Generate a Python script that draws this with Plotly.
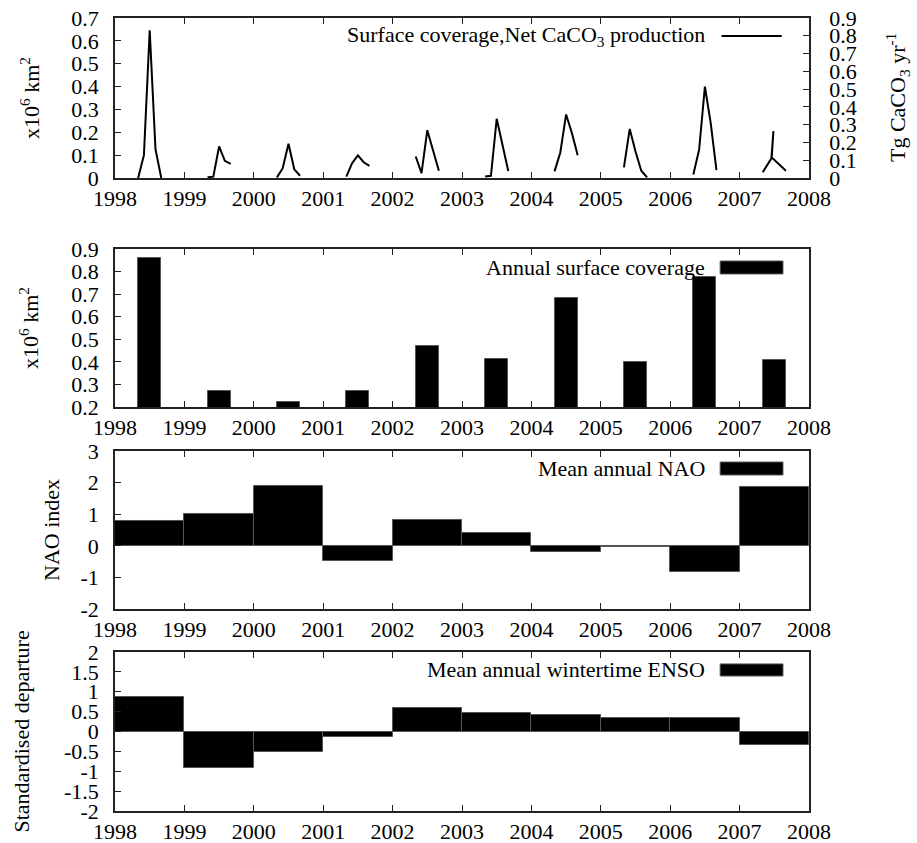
import plotly.graph_objects as go

# ---------------- data ----------------
years = list(range(1998, 2008))

# Panel 1: seasonal (May..Sep) surface coverage, x10^6 km^2 ; month numbers per year
cov_months = [
    [5, 6, 7, 8, 9],
    [5, 6, 7, 8, 9],
    [5, 6, 7, 8, 9],
    [5, 6, 7, 8, 9],
    [5, 6, 7, 8, 9],
    [5, 6, 7, 8, 9],
    [5, 6, 7, 8, 9],
    [5, 6, 7, 8, 9],
    [5, 6, 7, 8, 9],
    [5, 6.5, 6.85, 6.55, 9],
]
cov_values = [
    [0.0, 0.10, 0.646, 0.126, 0.0],
    [0.003, 0.006, 0.138, 0.075, 0.062],
    [0.003, 0.043, 0.150, 0.038, 0.010],
    [0.006, 0.065, 0.099, 0.069, 0.053],
    [0.094, 0.021, 0.209, 0.124, 0.032],
    [0.007, 0.010, 0.259, 0.146, 0.031],
    [0.029, 0.112, 0.278, 0.197, 0.100],
    [0.047, 0.215, 0.116, 0.032, 0.003],
    [0.015, 0.124, 0.400, 0.241, 0.035],
    [0.025, 0.086, 0.205, 0.090, 0.032],
]

annual_coverage = [0.860, 0.269, 0.221, 0.271, 0.469, 0.411, 0.684, 0.401, 0.778, 0.407]
nao = [0.78, 1.01, 1.88, -0.47, 0.82, 0.42, -0.19, -0.05, -0.82, 1.85]
enso = [0.876, -0.92, -0.52, -0.14, 0.60, 0.47, 0.42, 0.33, 0.33, -0.33]

year_ticks = list(range(1998, 2009))
year_labels = [str(y) for y in year_ticks]

y1_ticks = [0, 0.1, 0.2, 0.3, 0.4, 0.5, 0.6, 0.7]
y1_labels = ["0", "0.1", "0.2", "0.3", "0.4", "0.5", "0.6", "0.7"]
y1r_ticks = [0, 0.1, 0.2, 0.3, 0.4, 0.5, 0.6, 0.7, 0.8, 0.9]
y1r_labels = ["0", "0.1", "0.2", "0.3", "0.4", "0.5", "0.6", "0.7", "0.8", "0.9"]
y2_ticks = [0.2, 0.3, 0.4, 0.5, 0.6, 0.7, 0.8, 0.9]
y2_labels = ["0.2", "0.3", "0.4", "0.5", "0.6", "0.7", "0.8", "0.9"]
y3_ticks = [-2, -1, 0, 1, 2, 3]
y3_labels = ["-2", "-1", "0", "1", "2", "3"]
y4_ticks = [-2, -1.5, -1, -0.5, 0, 0.5, 1, 1.5, 2]
y4_labels = ["-2", "-1.5", "-1", "-0.5", "0", "0.5", "1", "1.5", "2"]

# ---------------- figure ----------------
FONT = "Liberation Serif"
line_x, line_y = [], []
for yr, ms, vs in zip(years, cov_months, cov_values):
    for m, v in zip(ms, vs):
        line_x.append(yr + (m - 1) / 12.0)
        line_y.append(v)
    line_x.append(None)
    line_y.append(None)

fig = go.Figure()
fig.add_trace(go.Scatter(x=line_x, y=line_y, mode="lines", xaxis="x", yaxis="y",
                         line=dict(color="black", width=2), connectgaps=False,
                         showlegend=False))
fig.add_trace(go.Bar(x=[y + 0.5 for y in years], y=annual_coverage, width=4 / 12,
                     xaxis="x2", yaxis="y2",
                     marker=dict(color="black", line=dict(color="#555", width=1)),
                     showlegend=False))
fig.add_trace(go.Bar(x=[y + 0.5 for y in years], y=nao, width=1,
                     xaxis="x3", yaxis="y3",
                     marker=dict(color="black", line=dict(color="#555", width=1)),
                     showlegend=False))
fig.add_trace(go.Bar(x=[y + 0.5 for y in years], y=enso, width=1,
                     xaxis="x4", yaxis="y4",
                     marker=dict(color="black", line=dict(color="#555", width=1)),
                     showlegend=False))
# empty trace so the right-hand axis of panel 1 is drawn
fig.add_trace(go.Scatter(x=[None], y=[None], xaxis="x", yaxis="y5", showlegend=False))

tickfont = dict(family=FONT, size=22, color="black")
common = dict(showline=True, linecolor="#222", linewidth=1.5, ticks="inside",
              ticklen=6, tickwidth=1.2, tickcolor="#222", showgrid=False,
              zeroline=False, tickfont=tickfont, automargin=False)

def xax(anchor):
    return dict(common, anchor=anchor, domain=[0, 1], range=[1998, 2008],
                tickmode="array", tickvals=year_ticks, ticktext=year_labels,
                mirror="ticks", ticklabelstandoff=0)

def yax(dom, rng, tv, tt, anchor):
    return dict(common, anchor=anchor, domain=dom, range=rng, tickmode="array",
                tickvals=tv, ticktext=tt, mirror=True, ticklabelstandoff=10)

d1 = [0.7982, 1.0]
d2 = [0.5095, 0.7087]
d3 = [0.2547, 0.4540]
d4 = [0.0, 0.2005]

fig.update_layout(
    width=917, height=843,
    margin=dict(l=115, r=108, t=18, b=32, autoexpand=False),
    paper_bgcolor="white", plot_bgcolor="white",
    font=dict(family=FONT, size=22, color="black"),
    bargap=0, showlegend=False,
    xaxis=xax("y"), xaxis2=xax("y2"), xaxis3=xax("y3"), xaxis4=xax("y4"),
    yaxis=yax(d1, [0, 0.7], y1_ticks, y1_labels, "x"),
    yaxis2=yax(d2, [0.2, 0.9], y2_ticks, y2_labels, "x2"),
    yaxis3=yax(d3, [-2, 3], y3_ticks, y3_labels, "x3"),
    yaxis4=yax(d4, [-2, 2], y4_ticks, y4_labels, "x4"),
    yaxis5=dict(common, overlaying="y", side="right", anchor="x", range=[0, 0.9],
                tickmode="array", tickvals=y1r_ticks, ticktext=y1r_labels,
                ticklabelstandoff=14),
)

ann = []
def title(text, xs, dom):
    ann.append(dict(text=text, xref="paper", yref="paper", x=0 if xs < 0 else 1,
                    xshift=xs, y=(dom[0] + dom[1]) / 2, textangle=-90,
                    xanchor="center", yanchor="middle", showarrow=False,
                    font=dict(family=FONT, size=22, color="black")))

title("x10<sup>6</sup> km<sup>2</sup>", -85, d1)
title("x10<sup>6</sup> km<sup>2</sup>", -86, d2)
title("NAO index", -64, d3)
title("Standardised departure", -93, d4)
title("Tg CaCO<sub>3</sub> yr<sup>-1</sup>", 88, d1)

legend_text = [
    ("x", "y", "Surface coverage,Net CaCO<sub>3</sub> production", 0.8875),
    ("x2", "y2", "Annual surface coverage", 0.88),
    ("x3", "y3", "Mean annual NAO", 0.886),
    ("x4", "y4", "Mean annual wintertime ENSO", 0.887),
]
for xr, yr_, txt, yy in legend_text:
    ann.append(dict(text=txt, xref=xr + " domain", yref=yr_ + " domain", x=0.853, y=yy,
                    xanchor="right", yanchor="middle", showarrow=False,
                    font=dict(family=FONT, size=22, color="black")))
fig.update_layout(annotations=ann)

shapes = [
    dict(type="line", xref="x domain", yref="y domain", x0=0.874, x1=0.9607,
         y0=0.8875, y1=0.8875, line=dict(color="black", width=2)),
    dict(type="rect", xref="x2 domain", yref="y2 domain", x0=0.872, x1=0.9625,
         y0=0.842, y1=0.924, fillcolor="black", line=dict(color="#555", width=1)),
    dict(type="rect", xref="x3 domain", yref="y3 domain", x0=0.872, x1=0.9625,
         y0=0.848, y1=0.930, fillcolor="black", line=dict(color="#555", width=1)),
    dict(type="rect", xref="x4 domain", yref="y4 domain", x0=0.872, x1=0.9625,
         y0=0.849, y1=0.925, fillcolor="black", line=dict(color="#555", width=1)),
]
fig.update_layout(shapes=shapes)

fig.write_html("out.html", config={"displayModeBar": False},
               post_script="document.body.style.margin='0';document.body.style.overflow='hidden';")
